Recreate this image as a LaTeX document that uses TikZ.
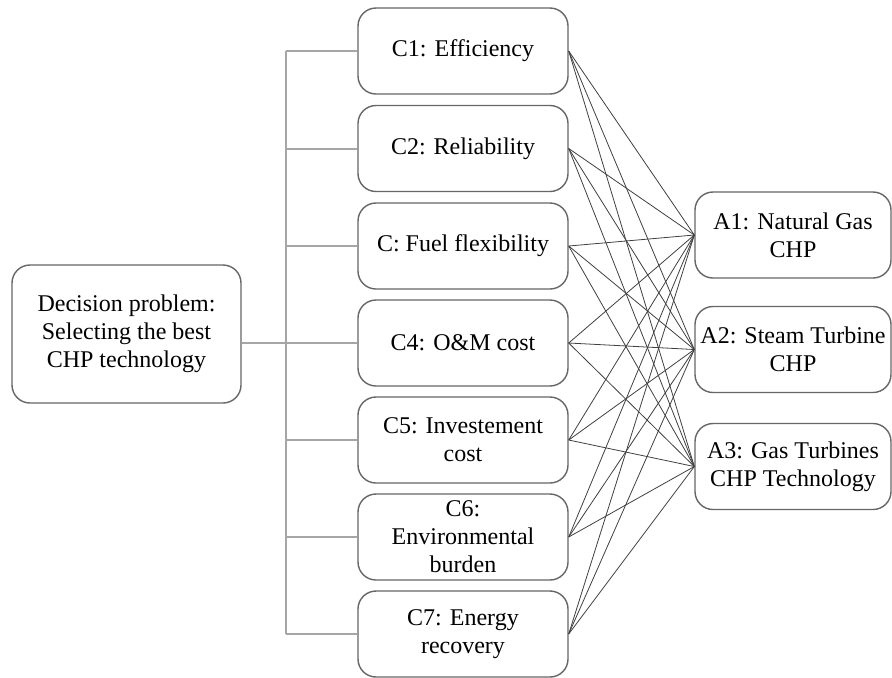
\documentclass[tikz,border=0pt]{standalone}
\usepackage{fontspec}
\setmainfont{Liberation Serif}
\usetikzlibrary{positioning}

\begin{document}
\begin{tikzpicture}[x=0.5pt,y=-0.5pt,
		box/.style={draw=black!60,line width=0.7pt,rounded corners=9pt,align=center,inner sep=1pt,font=\fontsize{12}{14}\selectfont},
		crit/.style={box,minimum width=105pt,minimum height=43pt},
		alt/.style={box,minimum width=98pt,minimum height=43pt},
		bus/.style={draw=black!35,line width=1pt},
		link/.style={draw=black!75,line width=0.4pt}]
		\useasboundingbox (0,0) rectangle (892,677);
		\node[box,minimum width=114.5pt,minimum height=69pt] (dec) at (126.5,334) {Decision problem:\\Selecting the best\\CHP technology};
		\node[crit] (c1) at (463,51) {C1: Efficiency};
		\node[crit] (c2) at (463,148.5) {C2: Reliability};
		\node[crit] (c3) at (463,246) {C: Fuel flexibility};
		\node[crit] (c4) at (463,343) {C4: O\&M cost};
		\node[crit] (c5) at (463,440) {C5: Investement\\cost};
		\node[crit] (c6) at (463,537) {C6:\\Environmental\\burden};
		\node[crit] (c7) at (463,634) {C7: Energy\\recovery};
		\node[alt] (a1) at (793,235) {A1: Natural Gas\\CHP};
		\node[alt] (a2) at (793,349.5) {A2: Steam Turbine\\CHP};
		\node[alt] (a3) at (793,466.5) {A3: Gas Turbines\\CHP Technology};
		\coordinate (bus) at (286,0);
		\draw[bus] (bus |- c1.west) -- (bus |- c7.west);
		\foreach \c in {1,...,7}
			\draw[bus] (bus |- c\c.west) -- (c\c.west);
		\draw[bus] (dec.east |- c4.west) -- (bus |- c4.west);
		\foreach \c in {1,...,7}
			\foreach \a in {1,2,3}
				\draw[link] (c\c.east) -- (a\a.west);
	\end{tikzpicture}
\end{document}
